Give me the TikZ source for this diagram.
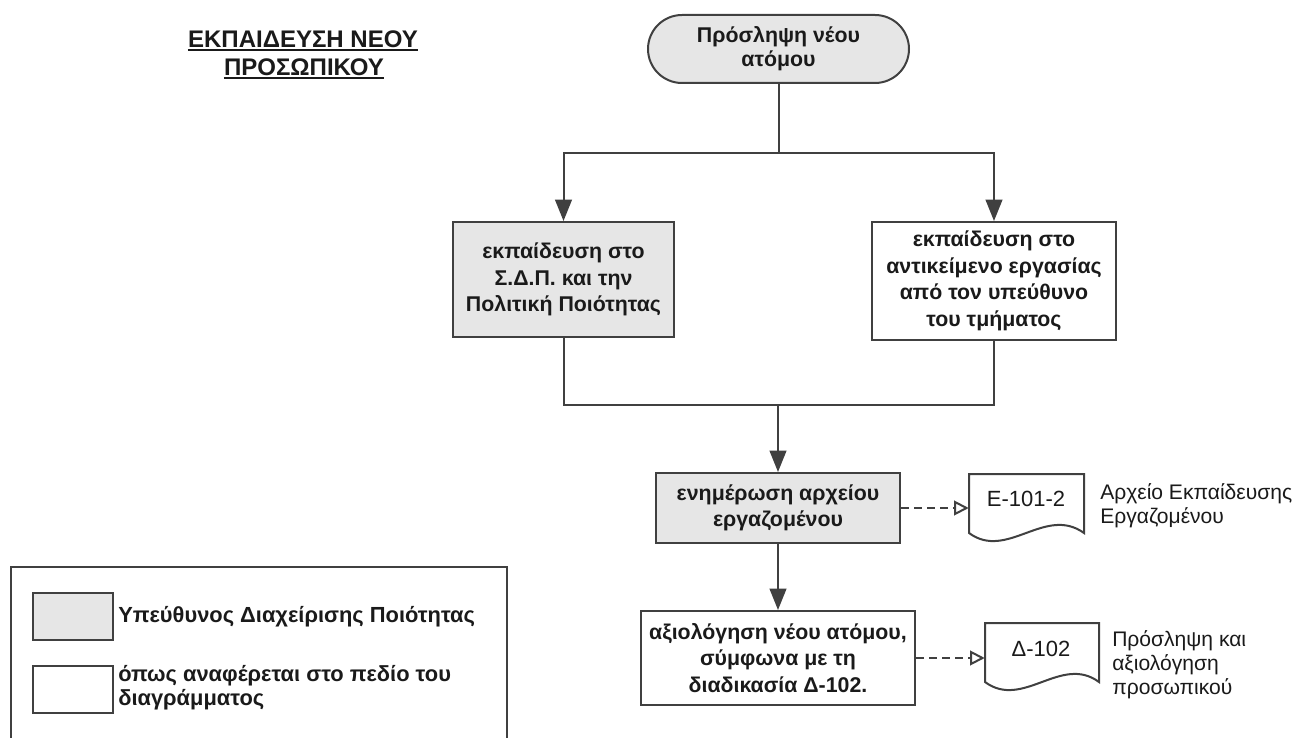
\documentclass[tikz,border=0pt]{standalone}
\usepackage{fontspec}
\setmainfont{Liberation Sans}
\usetikzlibrary{arrows.meta,shapes.misc}
\definecolor{boxgray}{HTML}{E6E6E6}
\definecolor{inkline}{HTML}{404040}
\definecolor{inktext}{HTML}{1A1A1A}
\begin{document}
\begin{tikzpicture}[x=0.75pt,y=-0.75pt,
  conn/.style={draw=inkline, line width=1.5pt},
  flow/.style={conn, -{Triangle[length=16pt,width=12.5pt]}},
  docref/.style={conn, dash pattern=on 6pt off 3.75pt, -{Triangle[open,length=11pt,width=11pt,fill=white]}},
  procbox/.style={draw=inkline, line width=1.5pt, align=center, inner sep=0pt,
    text=inktext, font=\bfseries\fontsize{16}{20}\selectfont},
  shaded/.style={fill=boxgray},
  startbox/.style={procbox, shaded, rounded rectangle, font=\bfseries\fontsize{16}{18}\selectfont},
  docbox/.style={draw=none, inner sep=0pt},
  docoutline/.style={draw=inkline, line width=1.5pt, fill=white},
  doctext/.style={text=inktext, inner sep=0pt, font=\fontsize{16.5}{19}\selectfont},
  annot/.style={text=inktext, inner sep=0pt, align=left, anchor=west, font=\fontsize{15.8}{18}\selectfont},
  titletext/.style={text=inktext, inner sep=0pt, anchor=base, font=\bfseries\fontsize{18}{21}\selectfont},
  swatch/.style={draw=inkline, line width=1.5pt, minimum width=60pt, minimum height=35.25pt, inner sep=0pt},
  legendtext/.style={text=inktext, inner sep=0pt, align=left, anchor=west, font=\bfseries\fontsize{16.4}{18}\selectfont}
]
\clip (0,0) rectangle (1300,738);
\fill[white] (0,0) rectangle (1300,738);

% title
\node[titletext] (t1) at (303,48) {ΕΚΠΑΙΔΕΥΣΗ ΝΕΟΥ};
\node[titletext] (t2) at (304,76) {ΠΡΟΣΩΠΙΚΟΥ};
\draw[draw=inktext, line width=1.5pt] ([yshift=-1.8pt]t1.base west) -- ([yshift=-1.8pt]t1.base east);
\draw[draw=inktext, line width=1.5pt] ([yshift=-1.8pt]t2.base west) -- ([yshift=-1.8pt]t2.base east);

% flow nodes
\node[startbox, minimum width=195.75pt, minimum height=51pt] (start) at (778.5,49) {Πρόσληψη νέου\\ατόμου};
\node[procbox, shaded, minimum width=165.75pt, minimum height=86.25pt] (sdp) at (563.5,279.5)
  {εκπαίδευση στο\\Σ.Δ.Π. και την\\Πολιτική Ποιότητας};
\node[procbox, minimum width=183pt, minimum height=88.5pt] (job) at (994,281)
  {εκπαίδευση στο\\αντικείμενο εργασίας\\από τον υπεύθυνο\\του τμήματος};
\node[procbox, shaded, minimum width=183pt, minimum height=52.5pt] (file) at (778,508)
  {ενημέρωση αρχείου\\εργαζομένου};
\node[procbox, minimum width=205.5pt, minimum height=70.5pt] (eval) at (778,658)
  {αξιολόγηση νέου ατόμου,\\σύμφωνα με τη\\διαδικασία Δ-102.};

% connectors
\coordinate (split) at (778.5,153);
\coordinate (merge) at (778,405);
\draw[conn] (start.south) -- (split);
\draw[flow] (split) -| (sdp.north);
\draw[flow] (split) -| (job.north);
\draw[conn] (sdp.south) |- (merge);
\draw[conn] (job.south) |- (merge);
\draw[flow] (merge) -- (file.north);
\draw[flow] (file.south) -- (eval.north);

% documents
\draw[docoutline]
  (969,533) -- (969,474) -- (1084,474) -- (1084,533)
  .. controls (1045,505) and (1007,561) .. (969,533) -- cycle;
\node[docbox, minimum width=86.25pt, minimum height=44.25pt] (doc1) at (1026.5,503.5) {};
\node[doctext] (doc1code) at (1026,499) {Ε-101-2};
\node[annot] (doc1name) at (1100,505.5) {Αρχείο Εκπαίδευσης\\Εργαζομένου};

\draw[docoutline]
  (985,682) -- (985,623) -- (1099,623) -- (1099,682)
  .. controls (1061,654) and (1023,710) .. (985,682) -- cycle;
\node[docbox, minimum width=85.5pt, minimum height=44.25pt] (doc2) at (1042,652.5) {};
\node[doctext] (doc2code) at (1041,649) {Δ-102};
\node[annot] (doc2name) at (1112,665) {Πρόσληψη και\\αξιολόγηση\\προσωπικού};

\draw[docref] (file.east) -- (file.east -| doc1.west);
\draw[docref] (eval.east) -- (eval.east -| doc2.west);

% legend
\draw[draw=inkline, line width=1.5pt] (11,745) -- (11,567) -- (507,567) -- (507,745);
\node[swatch, fill=boxgray] (sw1) at (73,616.5) {};
\node[swatch, fill=white] (sw2) at (73,689.5) {};
\node[legendtext] (lg1) at (118,617) {Υπεύθυνος Διαχείρισης Ποιότητας};
\node[legendtext] (lg2) at (118,688) {όπως αναφέρεται στο πεδίο του\\διαγράμματος};
\end{tikzpicture}
\end{document}
